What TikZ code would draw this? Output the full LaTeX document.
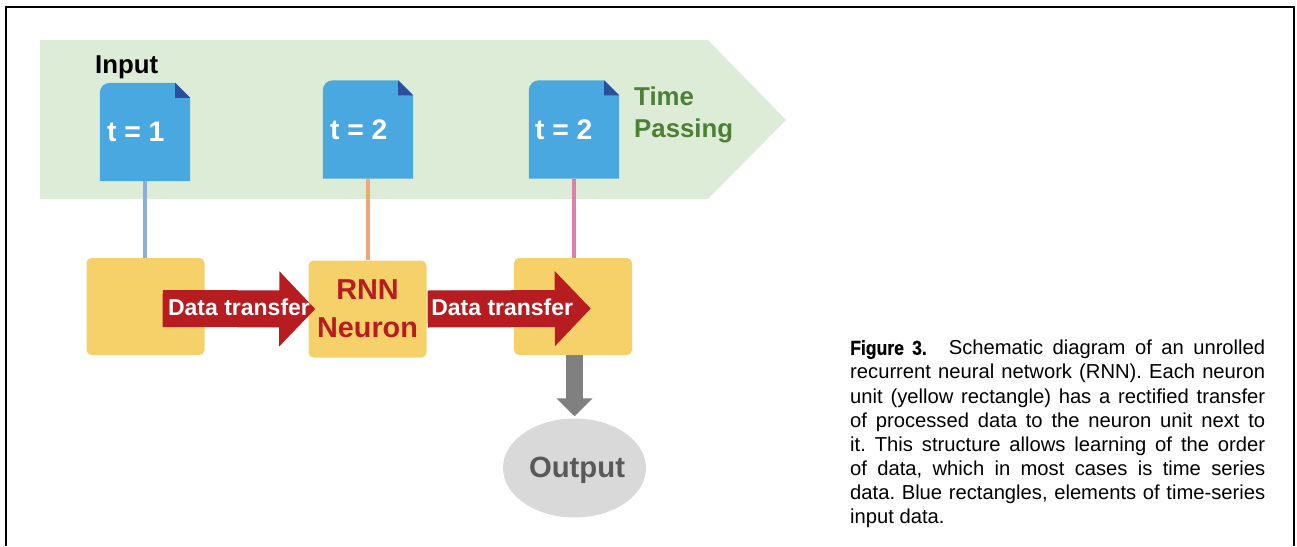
\documentclass[tikz,border=0pt]{standalone}
\usepackage{fontspec}
\setmainfont{Liberation Sans}
\newfontfamily\figfont[UprightFont=* Bold,FakeStretch=0.87,FakeBold=0.6]{Liberation Sans}
\usepackage{tikz}
\usetikzlibrary{arrows.meta,shapes.geometric}
\usetikzlibrary{positioning}

\definecolor{bandgreen}{HTML}{DDECD6}
\definecolor{sheetblue}{HTML}{4AA8E0}
\definecolor{folddark}{HTML}{2B4F9B}
\definecolor{unityellow}{HTML}{F6D169}
\definecolor{transred}{HTML}{B71C20}
\definecolor{timegreen}{HTML}{4D7F35}
\definecolor{lineblue}{HTML}{8FAADC}
\definecolor{lineorange}{HTML}{EDA975}
\definecolor{linepink}{HTML}{DD80AE}

\tikzset{
  sheet/.style={rectangle,inner sep=0pt,minimum width=90pt,minimum height=98pt},
  sheetlabel/.style={text=white,inner sep=0pt,font=\bfseries\fontsize{28.3}{30}\selectfont},
  unit/.style={rectangle,rounded corners=5pt,fill=unityellow,inner sep=0pt,minimum width=118pt,minimum height=97pt},
  feed/.style={line width=4.5pt},
  transfer/.style={transred,line width=37pt,-{Triangle[length=36pt,width=73pt]}},
  translabel/.style={text=white,inner sep=0pt,font=\bfseries\fontsize{23}{26}\selectfont},
}

\begin{document}
\begin{tikzpicture}[%
x={(1pt,0pt)},
y={(0pt,-1pt)},
]
\useasboundingbox (0,0) rectangle (1297,546);

%Rahmen
\draw[line width=2pt] (6,546) |- (1294,7) -- (1294,546);

%Band
\fill[bandgreen] (40,40) -- (708,40) -- (786,120) -- (708,199) -- (40,199) -- cycle;
\node[anchor=west,inner sep=0pt,font=\bfseries\fontsize{25.8}{28}\selectfont](input) at (95,67){Input};
\node[anchor=west,inner sep=0pt,text=timegreen,align=left,font=\bfseries\fontsize{25.8}{32}\selectfont](passing) at (634,115){Time\\Passing};

%Blaetter
\node[sheet](doc1) at (145,132){};
\node[sheet](doc2) at (368,129.5){};
\node[sheet](doc3) at (574,129.5){};

\fill[sheetblue] (doc1.south west) [rounded corners=10pt] -- (doc1.north west) [sharp corners] -- ([xshift=-15pt]doc1.north east) -- ([yshift=-15pt]doc1.north east) -- (doc1.south east) -- cycle;
\fill[sheetblue] (doc2.south west) [rounded corners=10pt] -- (doc2.north west) [sharp corners] -- ([xshift=-15pt]doc2.north east) -- ([yshift=-15pt]doc2.north east) -- (doc2.south east) -- cycle;
\fill[sheetblue] (doc3.south west) [rounded corners=10pt] -- (doc3.north west) [sharp corners] -- ([xshift=-15pt]doc3.north east) -- ([yshift=-15pt]doc3.north east) -- (doc3.south east) -- cycle;
\fill[folddark] ([xshift=-15pt]doc1.north east) -- ([yshift=-15pt]doc1.north east) -- ([xshift=-15pt,yshift=-15pt]doc1.north east) -- cycle;
\fill[folddark] ([xshift=-15pt]doc2.north east) -- ([yshift=-15pt]doc2.north east) -- ([xshift=-15pt,yshift=-15pt]doc2.north east) -- cycle;
\fill[folddark] ([xshift=-15pt]doc3.north east) -- ([yshift=-15pt]doc3.north east) -- ([xshift=-15pt,yshift=-15pt]doc3.north east) -- cycle;

\node[sheetlabel,right= 7pt of doc1.west](t1){t = 1};
\node[sheetlabel,right= 7pt of doc2.west](t2){t = 2};
\node[sheetlabel,right= 6pt of doc3.west](t3){t = 2};

%Einheiten
\node[unit](box1) at (145.5,306.5){};
\node[unit,align=center,text=transred,font=\bfseries\fontsize{28.8}{38}\selectfont](box2) at (367.5,309){RNN\\Neuron};
\node[unit](box3) at (573,306.5){};
\node[ellipse,fill=black!15,inner sep=0pt,minimum width=143pt,minimum height=99pt](out) at (574.5,468){};
\node[text=black!65,inner sep=0pt,font=\bfseries\fontsize{29.3}{32}\selectfont](outlabel) at (577,470.5){Output};

%Kanten
\draw[feed,lineblue] (doc1.south) -- (doc1.south |- box1.north);
\draw[feed,lineorange] (doc2.south) -- (doc2.south |- box2.north);
\draw[feed,linepink] (doc3.south) -- (doc3.south |- box3.north);
\draw[transfer] ([xshift=-42pt,yshift=-2pt]box1.east) -- ([xshift=7pt]box2.west) node[midway,translabel,yshift=1.5pt](lab1){Data transfer};
\draw[transfer] ([xshift=1pt]box2.east) -- ([xshift=77pt,yshift=-2pt]box3.west) node[pos=0.457,translabel,yshift=1.5pt](lab2){Data transfer};
\draw[black!50,line width=17pt,-{Triangle[length=18pt,width=35pt]}] (box3.south -| out.north) -- ([yshift=2pt]out.north);

%Text
\node[anchor=north west,inner sep=0pt,text width=415pt,align=justify,font=\fontsize{20.2}{24.1}\selectfont\frenchspacing](caption) at (850,340){{\figfont Figure 3.}\hspace{22pt}Schematic diagram of an unrolled\linebreak recurrent neural network (RNN). Each neuron\linebreak unit (yellow rectangle) has a rectified transfer\linebreak of processed data to the neuron unit next to\linebreak it. This structure allows learning of the order\linebreak of data, which in most cases is time series\linebreak data. Blue rectangles, elements of time-series\linebreak input data.};

\end{tikzpicture}
\end{document}
